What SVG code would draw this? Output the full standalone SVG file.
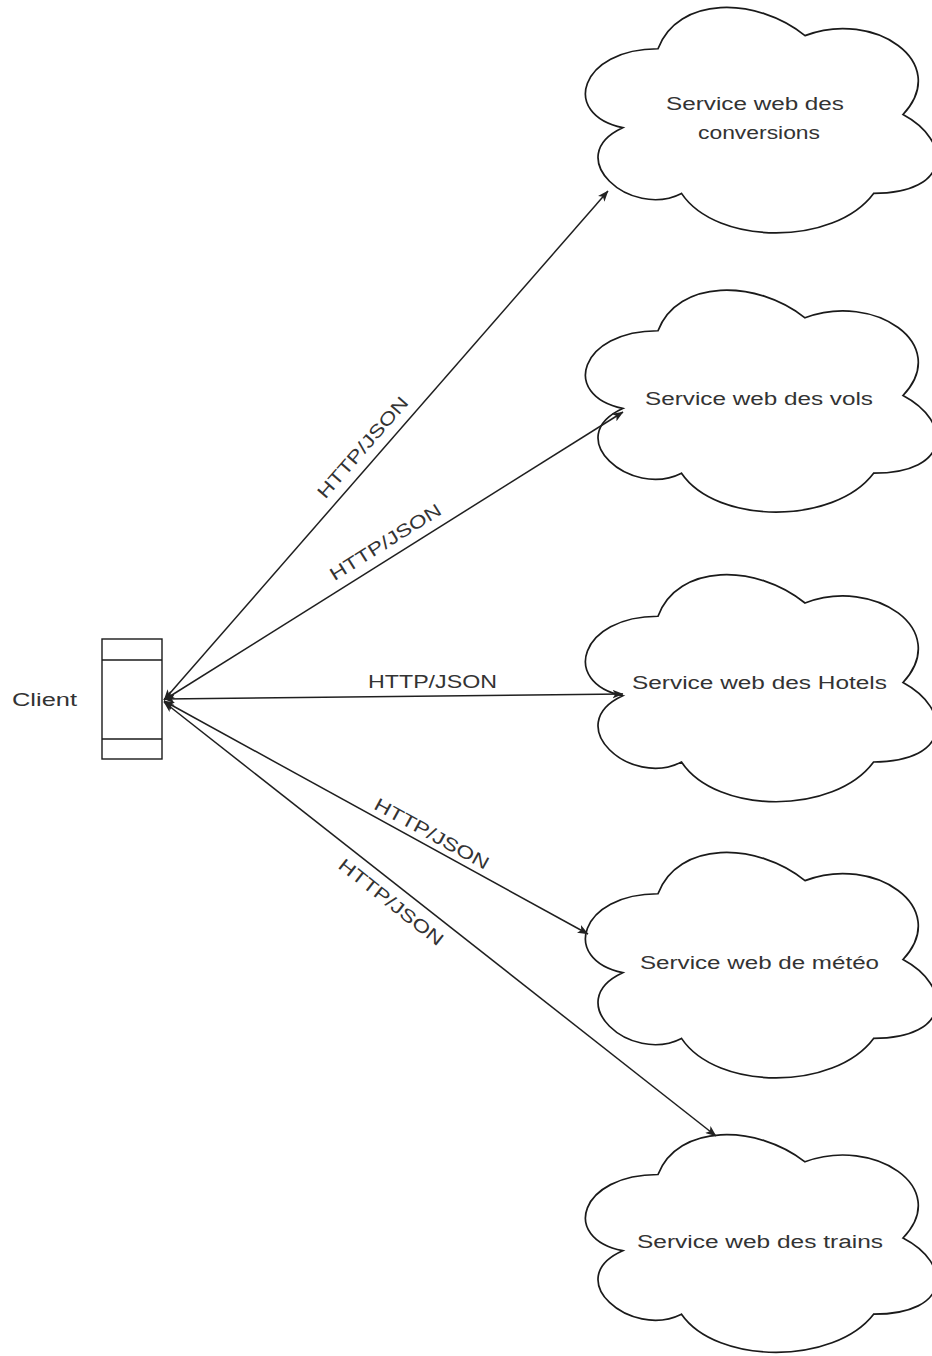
<svg xmlns="http://www.w3.org/2000/svg" width="932" height="1356" viewBox="0 0 932 1356">
<style>
.cloud{fill:#fff;stroke:#1a1a1a;stroke-width:1.7}
.box{fill:#fff;stroke:#1a1a1a;stroke-width:1.4}
.edge{fill:none;stroke:#1f1f1f;stroke-width:1.5}
.t{font-family:"Liberation Sans",Arial,sans-serif;font-size:18px;fill:#333}
</style>
<defs>
<marker id="arr" viewBox="0 0 10 8" refX="9.5" refY="4" markerWidth="11" markerHeight="9" markerUnits="userSpaceOnUse" orient="auto-start-reverse">
<path d="M0,0 L10,4 L0,8 L2.5,4 Z" fill="#222"/>
</marker>
</defs>
<rect width="932" height="1356" fill="#fff"/>

<g id="client">
<rect class="box" x="102" y="639" width="60" height="120"/>
<line class="box" x1="102" y1="660" x2="162" y2="660"/>
<line class="box" x1="102" y1="739" x2="162" y2="739"/>
<text class="t" x="12" y="706" textLength="65" lengthAdjust="spacingAndGlyphs">Client</text>
</g>

<g id="cloud-conversions">
<path class="cloud" d="M658,48.75 C579.6,48.75 560,114.5 622.7,127.65 C560,156.58 630.6,219.7 681.5,193.4 C716.8,246 834.4,246 873.6,193.4 C952,193.4 952,140.8 903,114.5 C952,61.9 873.6,9.3 805,35.6 C756,-3.85 677.6,-3.85 658,48.75 Z"/>
<text class="t" x="666" y="110" textLength="178" lengthAdjust="spacingAndGlyphs">Service web des</text>
<text class="t" x="698" y="139" textLength="122" lengthAdjust="spacingAndGlyphs">conversions</text>
</g>

<g id="cloud-vols">
<path class="cloud" d="M658,330.75 C579.6,330.75 560,395.5 622.7,408.45 C560,436.94 630.6,499.1 681.5,473.2 C716.8,525 834.4,525 873.6,473.2 C952,473.2 952,421.4 903,395.5 C952,343.7 873.6,291.9 805,317.8 C756,278.95 677.6,278.95 658,330.75 Z"/>
<text class="t" x="645" y="405" textLength="228" lengthAdjust="spacingAndGlyphs">Service web des vols</text>
</g>

<g id="cloud-hotels">
<path class="cloud" d="M658,616.25 C579.6,616.25 560,682.5 622.7,695.75 C560,724.9 630.6,788.5 681.5,762 C716.8,815 834.4,815 873.6,762 C952,762 952,709 903,682.5 C952,629.5 873.6,576.5 805,603 C756,563.25 677.6,563.25 658,616.25 Z"/>
<text class="t" x="632" y="689" textLength="255" lengthAdjust="spacingAndGlyphs">Service web des Hotels</text>
</g>

<g id="cloud-meteo">
<path class="cloud" d="M658,893.75 C579.6,893.75 560,959.5 622.7,972.65 C560,1001.58 630.6,1064.7 681.5,1038.4 C716.8,1091 834.4,1091 873.6,1038.4 C952,1038.4 952,985.8 903,959.5 C952,906.9 873.6,854.3 805,880.6 C756,841.15 677.6,841.15 658,893.75 Z"/>
<text class="t" x="640" y="969" textLength="239" lengthAdjust="spacingAndGlyphs">Service web de météo</text>
</g>

<g id="cloud-trains">
<path class="cloud" d="M658,1174.5 C579.6,1174.5 560,1238 622.7,1250.7 C560,1278.64 630.6,1339.6 681.5,1314.2 C716.8,1365 834.4,1365 873.6,1314.2 C952,1314.2 952,1263.4 903,1238 C952,1187.2 873.6,1136.4 805,1161.8 C756,1123.7 677.6,1123.7 658,1174.5 Z"/>
<text class="t" x="637" y="1248" textLength="246" lengthAdjust="spacingAndGlyphs">Service web des trains</text>
</g>

<g id="connectors">
<line class="edge" x1="164" y1="700" x2="608" y2="191" marker-start="url(#arr)" marker-end="url(#arr)"/>
<line class="edge" x1="164" y1="700" x2="623" y2="412" marker-start="url(#arr)" marker-end="url(#arr)"/>
<line class="edge" x1="164" y1="699" x2="623" y2="694" marker-start="url(#arr)" marker-end="url(#arr)"/>
<line class="edge" x1="164" y1="701" x2="588" y2="934" marker-start="url(#arr)" marker-end="url(#arr)"/>
<line class="edge" x1="164" y1="702" x2="716" y2="1136" marker-start="url(#arr)" marker-end="url(#arr)"/>
<text class="t" transform="translate(374.8,458) rotate(-48.9)" x="0" y="-10" text-anchor="middle" textLength="128" lengthAdjust="spacingAndGlyphs">HTTP/JSON</text>
<text class="t" transform="translate(394,555.8) rotate(-32.1)" x="0" y="-10" text-anchor="middle" textLength="128" lengthAdjust="spacingAndGlyphs">HTTP/JSON</text>
<text class="t" x="368" y="688" textLength="129" lengthAdjust="spacingAndGlyphs">HTTP/JSON</text>
<text class="t" transform="translate(425.9,844.4) rotate(28.9)" x="0" y="-6" text-anchor="middle" textLength="128" lengthAdjust="spacingAndGlyphs">HTTP/JSON</text>
<text class="t" transform="translate(402.2,888.1) rotate(38.3)" x="0" y="24" text-anchor="middle" textLength="128" lengthAdjust="spacingAndGlyphs">HTTP/JSON</text>
</g>
</svg>
